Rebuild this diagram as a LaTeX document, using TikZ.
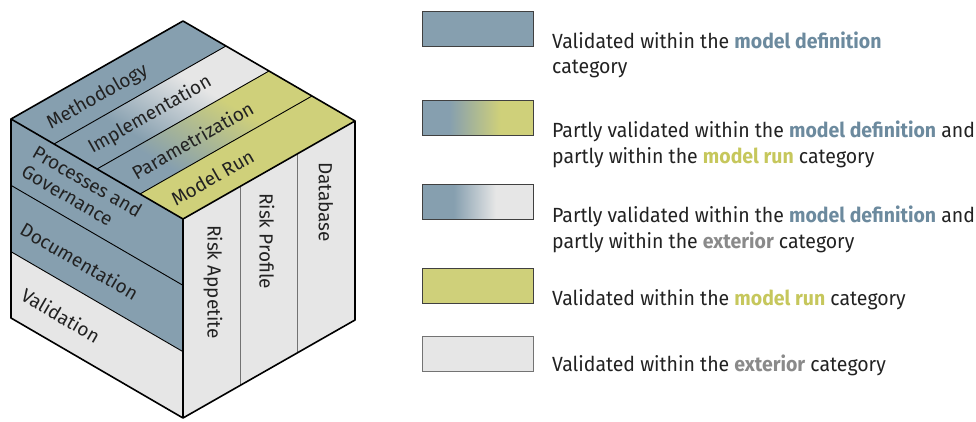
\documentclass[tikz,border=0pt]{standalone}
\usepackage{fontspec}
\setmainfont{Fira Sans}
\newfontfamily\legendfont[FakeStretch=0.95]{Fira Sans}
\usetikzlibrary{calc}

\definecolor{defblue}{RGB}{134,159,175}
\definecolor{runyellow}{RGB}{207,208,122}
\definecolor{extgray}{RGB}{230,230,230}
\definecolor{deftext}{RGB}{108,138,158}
\definecolor{runtext}{RGB}{198,199,92}
\definecolor{exttext}{RGB}{138,138,138}
\definecolor{inktext}{RGB}{34,34,34}

% gradients running along the top-face stripes (bottom = near end of the stripe)
\pgfdeclareverticalshading{defextV}{100bp}{color(0bp)=(defblue); color(39bp)=(defblue); color(61bp)=(extgray); color(100bp)=(extgray)}
\pgfdeclareverticalshading{defrunV}{100bp}{color(0bp)=(defblue); color(36bp)=(defblue); color(61bp)=(runyellow); color(100bp)=(runyellow)}
% gradients of the legend swatches
\pgfdeclarehorizontalshading{defrunH}{100bp}{color(0bp)=(defblue); color(37bp)=(defblue); color(60bp)=(runyellow); color(100bp)=(runyellow)}
\pgfdeclarehorizontalshading{defextH}{100bp}{color(0bp)=(defblue); color(39bp)=(defblue); color(58bp)=(extgray); color(100bp)=(extgray)}

\begin{document}
\begin{tikzpicture}[x=1pt,y=-1pt,
  edge/.style={line width=1.6pt, line join=round, black},
  seam/.style={line width=0.9pt, black},
  colseam/.style={line width=1pt, black!55},
  cubetext/.style={font=\fontsize{19}{22}\selectfont, text=inktext, inner sep=0pt},
  legbox/.style={draw=black!75, line width=1.1pt, minimum width=111pt, minimum height=35pt, inner sep=0pt, anchor=north west},
  legtext/.style={font=\legendfont\fontsize{20.5}{24}\selectfont, text=inktext, anchor=base west, inner sep=0pt},
  ]
\useasboundingbox (0,0) rectangle (976,421);

% cube corners
\coordinate (L) at (11,119);
\coordinate (T) at (183,21);
\coordinate (R) at (355,121);
\coordinate (F) at (183,219);
\coordinate (LB) at (11,318);
\coordinate (FB) at (183,418);
\coordinate (RB) at (355,320);

% left face: three bands
\fill[defblue] (L) -- (F) -- ($(F)!2/3!(FB)$) -- ($(L)!2/3!(LB)$) -- cycle;
\fill[extgray] ($(L)!2/3!(LB)$) -- ($(F)!2/3!(FB)$) -- (FB) -- (LB) -- cycle;

% right face: three columns
\fill[extgray] (F) -- (R) -- (RB) -- (FB) -- cycle;
\draw[colseam] ($(F)!1/3!(R)$) -- ($(FB)!1/3!(RB)$);
\draw[colseam] ($(F)!2/3!(R)$) -- ($(FB)!2/3!(RB)$);

% top face: four stripes, drawn in the face's own skewed frame
\begin{scope}[transform canvas={cm={1.72,-1.00,1.72,0.98,(11,119)}}]
  \fill[defblue] (0pt,0pt) rectangle (25.2pt,100pt);
  \shade[shading=defextV] (25pt,0pt) rectangle (50.2pt,100pt);
  \shade[shading=defrunV] (50pt,0pt) rectangle (75.2pt,100pt);
  \fill[runyellow] (75pt,0pt) rectangle (100pt,100pt);
\end{scope}

% seams between the stripes and bands
\draw[seam] ($(L)!1/4!(F)$) -- ($(T)!1/4!(R)$);
\draw[seam] ($(L)!2/4!(F)$) -- ($(T)!2/4!(R)$);
\draw[seam] ($(L)!3/4!(F)$) -- ($(T)!3/4!(R)$);
\draw[seam] ($(L)!1/3!(LB)$) -- ($(F)!1/3!(FB)$);
\draw[seam] ($(L)!2/3!(LB)$) -- ($(F)!2/3!(FB)$);

% cube outline
\draw[edge] (L) -- (T) -- (R) -- (RB) -- (FB) -- (LB) -- cycle;
\draw[edge] (L) -- (F) -- (R);
\draw[edge] (F) -- (FB);

% labels on the top face
\node[cubetext, rotate=29.7] (methodology) at (97.5,97.5) {Methodology};
\node[cubetext, rotate=29.7] (implementation) at (150,115) {Implementation};
\node[cubetext, rotate=29.7] (parametrization) at (192.5,140) {Parametrization};
\node[cubetext, rotate=29.7] (modelrun) at (212.5,177.5) {Model Run};

% labels on the left face
\node[cubetext, rotate=-30.2, align=left] (processes) at (82,191) {Processes and\\Governance};
\node[cubetext, rotate=-30.2] (documentation) at (79.5,261) {Documentation};
\node[cubetext, rotate=-30.2] (validation) at (61,315.5) {Validation};

% labels on the right face
\node[cubetext, rotate=-90, anchor=west] (appetite) at (213,225) {Risk Appetite};
\node[cubetext, rotate=-90, anchor=west] (profile) at (267,193) {Risk Profile};
\node[cubetext, rotate=-90, anchor=west] (database) at (326,162) {Database};

% legend swatches
\node[legbox, fill=defblue] (sw1) at (422,10.5) {};
\node[legbox, shading=defrunH] (sw2) at (422,100) {};
\node[legbox, shading=defextH] (sw3) at (422,184) {};
\node[legbox, fill=runyellow] (sw4) at (422,268) {};
\node[legbox, fill=extgray, draw=black!55] (sw5) at (422,336) {};

% legend texts
\node[legtext] (l1a) at (552,48) {Validated within the {\bfseries\color{deftext}model definition}};
\node[legtext] (l1b) at (552,73) {category};
\node[legtext] (l2a) at (552,137) {Partly validated within the {\bfseries\color{deftext}model definition} and};
\node[legtext] (l2b) at (552,163) {partly within the {\bfseries\color{runtext}model run} category};
\node[legtext] (l3a) at (552,222) {Partly validated within the {\bfseries\color{deftext}model definition} and};
\node[legtext] (l3b) at (552,248) {partly within the {\bfseries\color{exttext}exterior} category};
\node[legtext] (l4) at (552,305) {Validated within the {\bfseries\color{runtext}model run} category};
\node[legtext] (l5) at (552,371.5) {Validated within the {\bfseries\color{exttext}exterior} category};
\end{tikzpicture}
\end{document}
